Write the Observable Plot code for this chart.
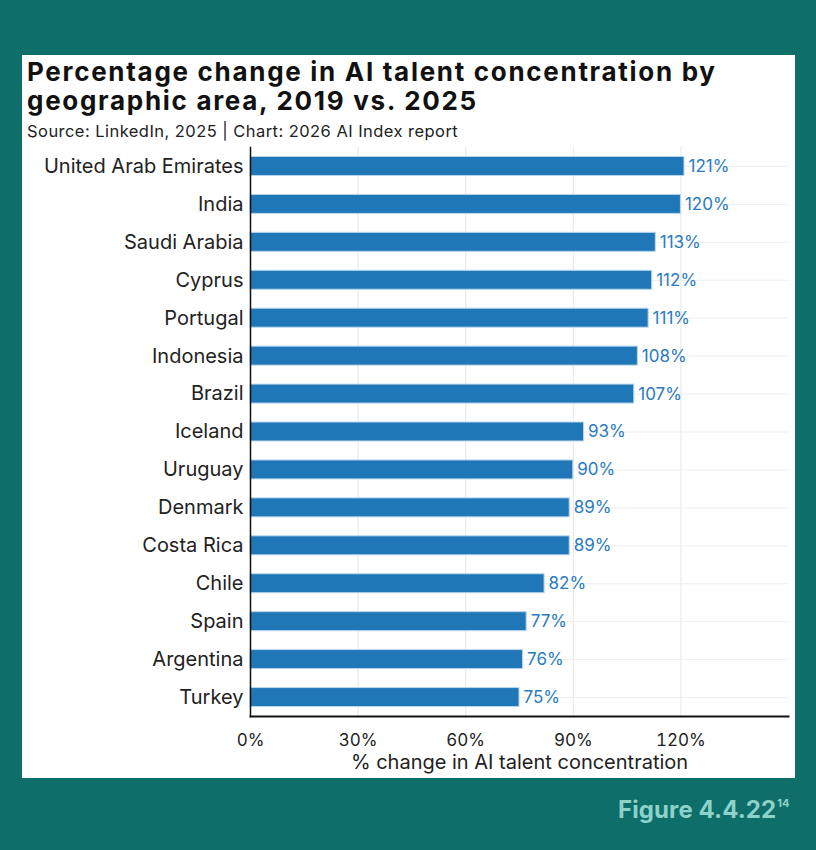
<!DOCTYPE html>
<html>
<head>
<meta charset="utf-8">
<script src="https://cdn.jsdelivr.net/npm/d3@7"></script>
<script src="https://cdn.jsdelivr.net/npm/@observablehq/plot@0.6"></script>
<style>
  html, body { margin: 0; padding: 0; }
  body { width: 816px; height: 850px; background: #0e6e6a; position: relative; overflow: hidden; font-family: Inter, "Open Sans", sans-serif; }
  #panel { position: absolute; left: 22px; top: 55px; width: 773px; height: 723px; background: #fff; }
  #title { position: absolute; left: 5px; top: 2px; width: 770px; font-weight: 700; font-size: 26px; line-height: 29px; color: #111; letter-spacing: 1.7px; white-space: nowrap; }
  #subtitle { position: absolute; left: 5px; top: 66px; font-size: 16.5px; color: #222; letter-spacing: 0.45px; white-space: nowrap; }
  #chart { position: absolute; left: 0; top: 85px; }
  #fig { position: absolute; left: 618px; top: 795px; color: #8cd2c9; font-weight: 700; font-size: 24px; white-space: nowrap; letter-spacing: 0.1px; }
  #fig sup { font-size: 11px; vertical-align: 11px; margin-left: 1px; }
</style>
</head>
<body>
<div id="panel">
  <div id="title">Percentage change in AI talent concentration by<br>geographic area, 2019 vs. 2025</div>
  <div id="subtitle">Source: LinkedIn, 2025 | Chart: 2026 AI Index report</div>
  <div id="chart"></div>
</div>
<div id="fig">Figure 4.4.22<sup>14</sup></div>
<script>
const countries = ["United Arab Emirates","India","Saudi Arabia","Cyprus","Portugal","Indonesia","Brazil","Iceland","Uruguay","Denmark","Costa Rica","Chile","Spain","Argentina","Turkey"];
const values = [121,120,113,112,111,108,107,93,90,89,89,82,77,76,75];
const xTicks = [0,30,60,90,120];

const data = countries.map((c, i) => ({country: c, value: values[i]}));

const chart = Plot.plot({
  width: 773,
  height: 638,
  marginLeft: 228,
  marginRight: 7,
  marginTop: 7,
  marginBottom: 62,
  style: {fontFamily: "Inter, 'Open Sans', sans-serif", fontSize: "17px", color: "#222", background: "transparent"},
  x: {domain: [0, 150]},
  y: {domain: countries, paddingInner: 0.5, paddingOuter: 0.25, round: false},
  marks: [
    Plot.gridX({ticks: xTicks.slice(1), stroke: "#e6e6e6", strokeOpacity: 1, strokeWidth: 1}),
    Plot.ruleY(countries, {y: d => d, stroke: "#eeeeee", strokeWidth: 1}),
    Plot.barX(data, {x: "value", y: "country", fill: "#1f77b8", stroke: "#b9d6ee", strokeWidth: 1}),
    Plot.text(data, {x: "value", y: "country", text: d => d.value + "%", textAnchor: "start", dx: 4, fill: "#2a7bc0", fontSize: 17, letterSpacing: 0.4}),
    Plot.axisY({tickSize: 0, tickPadding: 7, label: null, fontSize: 20, letterSpacing: 1.2}),
    Plot.axisX({ticks: xTicks, tickFormat: d => d + "%", tickSize: 0, tickPadding: 17, label: null, fontSize: 17, letterSpacing: 0.3}),
    Plot.text(["% change in AI talent concentration"], {frameAnchor: "bottom", x: 75, dy: 52, text: d => d, fontSize: 20, fill: "#222", lineAnchor: "bottom", letterSpacing: 1.0}),
    Plot.frame({anchor: "left", stroke: "#111", strokeWidth: 1.5}),
    Plot.frame({anchor: "bottom", stroke: "#111", strokeWidth: 2})
  ]
});
document.getElementById("chart").appendChild(chart);
</script>
</body>
</html>
